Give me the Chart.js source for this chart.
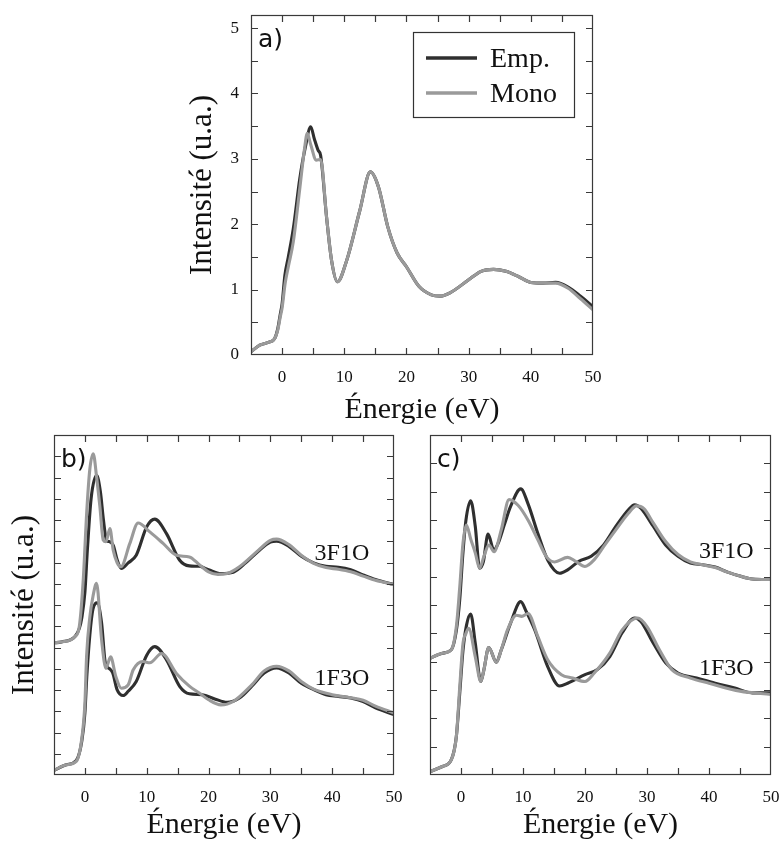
<!DOCTYPE html>
<html lang="fr">
<head>
<meta charset="utf-8">
<title>Intensité vs Énergie</title>
<script src="https://cdn.jsdelivr.net/npm/chart.js@4.4.1/dist/chart.umd.min.js"></script>
<style>
  html, body { margin: 0; padding: 0; background: #fff; overflow: hidden; }
  #wrap { position: relative; width: 780px; height: 845px; }
  canvas { position: absolute; }
  #chartA { left: 170px; top: 0; }
  #chartB { left: 0; top: 430px; }
  #chartC { left: 400px; top: 430px; }
</style>
</head>
<body>
<div id="wrap">
  <canvas id="chartB" width="410" height="415"></canvas>
  <canvas id="chartC" width="380" height="415"></canvas>
  <canvas id="chartA" width="440" height="430"></canvas>
</div>
<script>
// ---- data (energy in eV, intensity in a.u.) ----

// panel a)
const aEmpE  = [-5, -3.6, -2, -1.2, -0.7, -0.3, 0, 0.45, 1, 1.8, 2.85, 3.7, 4.6, 5.2, 5.8, 6.2, 7.15, 7.95, 8.9, 10.4, 12.5, 14.2, 15.5, 17, 18.5, 20, 22, 24, 25.5, 27, 30, 32, 34, 36, 38, 40, 42, 44, 46, 48, 50];
const aEmpI  = [0.05, 0.15, 0.2, 0.25, 0.4, 0.62, 0.78, 1.22, 1.5, 1.93, 2.7, 3.16, 3.49, 3.3, 3.13, 3.05, 2.11, 1.45, 1.12, 1.45, 2.21, 2.8, 2.57, 1.96, 1.56, 1.35, 1.05, 0.92, 0.9, 0.95, 1.15, 1.28, 1.31, 1.28, 1.2, 1.11, 1.1, 1.11, 1.04, 0.9, 0.74];
const aMonoE = [-5, -3.6, -2, -1.2, -0.7, -0.3, 0, 0.5, 1, 1.8, 2.85, 3.6, 4.05, 4.6, 5.5, 6.2, 7.15, 7.95, 8.9, 10.4, 12.5, 14.2, 15.5, 17, 18.5, 20, 22, 24, 25.5, 27, 30, 32, 34, 36, 38, 40, 42, 44, 46, 48, 50];
const aMonoI = [0.05, 0.15, 0.2, 0.25, 0.38, 0.58, 0.72, 1.1, 1.35, 1.73, 2.55, 3.15, 3.39, 3.22, 2.98, 2.99, 2.11, 1.45, 1.12, 1.45, 2.21, 2.8, 2.57, 1.96, 1.56, 1.35, 1.05, 0.92, 0.9, 0.95, 1.15, 1.28, 1.31, 1.28, 1.2, 1.11, 1.1, 1.1, 1.02, 0.86, 0.69];

// panel b) upper curves (3F1O)
const bTopEmpE  = [-5, -3.8, -1.6, -0.9, -0.5, 0, 0.4, 1, 1.9, 2.5, 3.0, 3.5, 4.0, 4.6, 5.2, 5.9, 7, 8.3, 10, 11.3, 13.2, 15.3, 16.9, 18.5, 20, 22, 24, 26, 28, 30, 31, 33, 35, 37, 39, 41, 43, 45, 47, 50];
const bTopEmpI  = [3.11, 3.13, 3.26, 3.45, 3.7, 4.3, 5.3, 6.5, 7.05, 6.67, 6.0, 5.52, 5.49, 5.4, 5.07, 4.86, 4.99, 5.17, 5.84, 6.02, 5.68, 5.06, 4.92, 4.91, 4.83, 4.74, 4.77, 4.99, 5.26, 5.48, 5.5, 5.38, 5.15, 4.99, 4.91, 4.89, 4.83, 4.71, 4.6, 4.48];
const bTopMonoE = [-5, -3.8, -1.6, -0.9, -0.27, 0.3, 0.8, 1.35, 1.9, 2.42, 2.96, 3.4, 4.04, 4.58, 5.2, 5.82, 7.27, 8.6, 10.5, 12.65, 14.8, 16.9, 18.5, 20, 21.5, 23, 25, 28, 30, 31, 33, 35, 37, 39, 41, 43, 45, 47, 50];
const bTopMonoI = [3.11, 3.13, 3.26, 3.5, 4.59, 6.2, 7.2, 7.56, 7.0, 6.32, 5.53, 5.49, 5.8, 5.29, 5.0, 4.9, 5.45, 5.93, 5.72, 5.45, 5.17, 5.13, 4.95, 4.78, 4.72, 4.74, 4.9, 5.28, 5.52, 5.55, 5.42, 5.17, 4.98, 4.88, 4.84, 4.78, 4.68, 4.58, 4.48];
// panel b) lower curves (1F3O)
const bBotEmpE  = [-5, -3, -1.4, -0.5, 0, 0.3, 0.8, 1.3, 2.0, 2.7, 3.3, 4.0, 4.5, 5.2, 6.2, 7, 8.3, 10, 11.3, 13.2, 15.35, 16.9, 19, 21, 23, 25, 27, 29, 31, 33, 35, 37, 39, 41, 43, 45, 47, 50];
const bBotEmpI  = [0.11, 0.24, 0.34, 0.8, 1.46, 2.3, 3.3, 3.9, 4.05, 3.58, 2.64, 2.5, 2.4, 2.01, 1.87, 1.97, 2.2, 2.82, 3.02, 2.71, 2.08, 1.91, 1.89, 1.79, 1.71, 1.81, 2.09, 2.4, 2.52, 2.4, 2.16, 2.01, 1.89, 1.85, 1.81, 1.73, 1.58, 1.42];
const bBotMonoE = [-5, -3, -1.4, -0.53, 0, 0.27, 0.8, 1.3, 1.88, 2.7, 3.4, 4.15, 5, 5.9, 7, 7.8, 9.4, 10.5, 12.4, 14.8, 16.9, 18.5, 20, 22, 24, 27, 29, 31, 33, 35, 37, 40, 43, 45, 47, 50];
const bBotMonoI = [0.11, 0.24, 0.32, 0.83, 1.69, 2.79, 3.72, 4.2, 4.51, 3.18, 2.51, 2.78, 2.32, 2.04, 2.12, 2.47, 2.67, 2.64, 2.86, 2.39, 2.09, 1.93, 1.77, 1.65, 1.73, 2.12, 2.45, 2.56, 2.45, 2.2, 2.02, 1.89, 1.82, 1.76, 1.62, 1.46];

// panel c) upper curves (3F1O)
const cTopEmpE  = [-5, -3, -1.56, -0.75, -0.2, 0.3, 0.8, 1.56, 2.3, 3.0, 3.6, 4.36, 5.3, 6, 7, 8, 9.64, 10.8, 12.4, 14, 15.9, 17.2, 19, 21, 23, 25, 27, 28, 29, 31, 33, 35, 37, 39, 41, 43, 45, 47, 50];
const cTopEmpI  = [2.06, 2.15, 2.21, 2.55, 3.1, 3.9, 4.5, 4.84, 4.39, 3.65, 3.76, 4.25, 3.97, 4.09, 4.42, 4.74, 5.05, 4.79, 4.26, 3.79, 3.56, 3.62, 3.77, 3.86, 4.06, 4.39, 4.68, 4.77, 4.71, 4.39, 4.06, 3.86, 3.74, 3.71, 3.67, 3.58, 3.51, 3.46, 3.45];
const cTopMonoE = [-5, -3, -1.56, -0.75, -0.2, 0.32, 0.86, 1.6, 2.3, 3.0, 3.7, 4.5, 5.33, 6.5, 7.75, 9.2, 10.8, 12.4, 13.8, 15.1, 17.2, 18.5, 20, 21.5, 23, 25, 27, 28.3, 29.5, 31, 33, 35, 37, 39, 41, 43, 45, 47, 50];
const cTopMonoI = [2.06, 2.15, 2.21, 2.62, 3.32, 4.09, 4.41, 4.15, 3.92, 3.65, 3.86, 4.06, 3.94, 4.33, 4.86, 4.76, 4.5, 4.15, 3.85, 3.76, 3.84, 3.77, 3.68, 3.8, 4.03, 4.33, 4.62, 4.75, 4.7, 4.45, 4.12, 3.89, 3.76, 3.71, 3.66, 3.58, 3.51, 3.46, 3.45];
// panel c) lower curves (1F3O)
const cBotEmpE  = [-5, -3, -1.56, -0.75, -0.2, 0.32, 0.9, 1.56, 2.3, 3.2, 3.7, 4.47, 5.7, 6.5, 8, 9.64, 10.5, 11.9, 14, 15.9, 17.2, 20, 22, 24, 26, 28, 29, 31, 33, 35, 38, 41, 44, 47, 50];
const cBotEmpI  = [0.06, 0.15, 0.27, 0.68, 1.45, 2.2, 2.65, 2.84, 2.33, 1.65, 1.86, 2.25, 1.99, 2.21, 2.68, 3.06, 2.89, 2.56, 1.91, 1.57, 1.62, 1.77, 1.86, 2.09, 2.51, 2.77, 2.71, 2.33, 1.98, 1.8, 1.71, 1.62, 1.54, 1.45, 1.45];
const cBotMonoE = [-5, -3, -1.56, -0.75, -0.2, 0.32, 0.8, 1.24, 2.3, 3.2, 3.7, 4.47, 5.7, 6.5, 7.5, 8.94, 9.8, 10.8, 12.4, 14, 16.2, 18, 20, 21.5, 24, 26, 28.5, 30, 32, 34, 37, 40, 45, 50];
const cBotMonoI = [0.06, 0.15, 0.27, 0.68, 1.56, 2.32, 2.5, 2.59, 2.09, 1.65, 1.86, 2.25, 1.99, 2.21, 2.56, 2.82, 2.8, 2.85, 2.44, 2.03, 1.77, 1.71, 1.65, 1.8, 2.15, 2.56, 2.77, 2.62, 2.21, 1.86, 1.71, 1.62, 1.48, 1.42];

const seriesNames = ['Emp.', 'Mono'];
const curveNames = ['3F1O', '1F3O'];

// ---- styling ----
const DARK = '#2f2f2f';
const GRAY = '#9a9a9a';
const INK = '#111';
const SERIF = '"Liberation Serif", "Times New Roman", serif';

const pairs = (xs, ys) => xs.map((x, i) => ({x: x, y: ys[i]}));

function curve(label, xs, ys, color) {
    return {
        label: label,
        data: pairs(xs, ys),
        borderColor: color,
        borderWidth: 3.1,
        pointRadius: 0,
        fill: false,
        cubicInterpolationMode: 'monotone',
        order: color === GRAY ? 1 : 2 // grey drawn on top of dark
    };
}

// frame + inward tick marks on the four sides
const frameTicks = {
    id: 'frameTicks',
    afterDatasetsDraw(chart) {
        const {ctx, chartArea: a, scales: {x, y}} = chart;
        const len = 7;
        ctx.save();
        ctx.strokeStyle = '#3a3a3a';
        ctx.lineWidth = 1.2;
        ctx.beginPath();
        x.ticks.forEach(t => {
            const px = Math.round(x.getPixelForValue(t.value)) + 0.5;
            if (px <= a.left + 1 || px >= a.right - 1) return;
            ctx.moveTo(px, a.bottom); ctx.lineTo(px, a.bottom - len);
            ctx.moveTo(px, a.top); ctx.lineTo(px, a.top + len);
        });
        y.ticks.forEach(t => {
            const py = Math.round(y.getPixelForValue(t.value)) + 0.5;
            if (py <= a.top + 1 || py >= a.bottom - 1) return;
            ctx.moveTo(a.left, py); ctx.lineTo(a.left + len, py);
            ctx.moveTo(a.right, py); ctx.lineTo(a.right - len, py);
        });
        ctx.stroke();
        ctx.strokeRect(a.left + 0.5, a.top + 0.5, a.right - a.left - 1, a.bottom - a.top - 1);
        ctx.restore();
    }
};

// panel tag "a)" etc. and the curve names next to the curves
const panelText = {
    id: 'panelText',
    afterDatasetsDraw(chart, args, opts) {
        const {ctx, chartArea: a, scales: {x, y}} = chart;
        ctx.save();
        ctx.fillStyle = INK;
        ctx.textBaseline = 'alphabetic';
        ctx.font = '25px "DejaVu Sans", sans-serif';
        ctx.fillText(opts.tag, a.left + 7, a.top + 32);
        ctx.font = '24px ' + SERIF;
        ctx.textAlign = 'right';
        (opts.curves || []).forEach(c => {
            ctx.fillText(c.text, x.getPixelForValue(c.x), y.getPixelForValue(c.y));
        });
        ctx.restore();
    }
};

// boxed legend inside panel a)
const boxLegend = {
    id: 'boxLegend',
    afterDatasetsDraw(chart, args, opts) {
        if (!opts.display) return;
        const {ctx, chartArea: a} = chart;
        const bx = a.left + 162, by = a.top + 17, bw = 161, bh = 85;
        ctx.save();
        ctx.fillStyle = '#fff';
        ctx.fillRect(bx, by, bw, bh);
        ctx.strokeStyle = '#333';
        ctx.lineWidth = 1.2;
        ctx.strokeRect(bx + 0.5, by + 0.5, bw, bh);
        ctx.font = '28px ' + SERIF;
        ctx.fillStyle = INK;
        chart.data.datasets.forEach((ds, i) => {
            const ly = by + 26 + i * 35;
            ctx.strokeStyle = ds.borderColor;
            ctx.lineWidth = 3.4;
            ctx.beginPath();
            ctx.moveTo(bx + 13, ly);
            ctx.lineTo(bx + 64, ly);
            ctx.stroke();
            ctx.fillText(ds.label, bx + 77, ly + 9);
        });
        ctx.restore();
    }
};

function makeScales({yMax, yLabels, yTitle, yWidth, yTitlePad, xHeight}) {
    return {
        x: {
            type: 'linear',
            min: -5,
            max: 50,
            grid: {display: false, drawTicks: false},
            border: {display: false},
            ticks: {
                stepSize: 5,
                autoSkip: false,
                maxRotation: 0,
                padding: 12,
                color: INK,
                font: {family: SERIF, size: 17},
                callback: v => (v % 10 === 0 ? v : '')
            },
            title: {
                display: true,
                text: 'Énergie (eV)',
                color: INK,
                font: {family: SERIF, size: 30, lineHeight: 1},
                padding: {top: 0, bottom: 5}
            },
            // fixed box so the plot area lands where the figure has it
            afterFit: s => { s.height = xHeight; s.paddingLeft = 0; s.paddingRight = 0; }
        },
        y: {
            type: 'linear',
            min: 0,
            max: yMax,
            grid: {display: false, drawTicks: false},
            border: {display: false},
            ticks: {
                stepSize: 0.5,
                includeBounds: false,
                autoSkip: false,
                padding: 12,
                color: INK,
                font: {family: SERIF, size: 17},
                callback: v => (yLabels && v % 1 === 0 ? v : '')
            },
            title: {
                display: !!yTitle,
                text: yTitle || '',
                color: INK,
                font: {family: SERIF, size: 31, lineHeight: 1},
                padding: {top: yTitlePad || 0, bottom: 0}
            },
            afterFit: s => { s.width = yWidth; s.paddingTop = 0; s.paddingBottom = 0; }
        }
    };
}

function makeChart(id, datasets, scaleOpts, padding, text, legend) {
    return new Chart(document.getElementById(id), {
        type: 'line',
        data: {datasets: datasets},
        options: {
            responsive: false,
            animation: false,
            devicePixelRatio: 1,
            layout: {padding: padding},
            scales: makeScales(scaleOpts),
            plugins: {
                legend: {display: false},
                tooltip: {enabled: false},
                panelText: text,
                boxLegend: {display: legend}
            }
        },
        plugins: [frameTicks, panelText, boxLegend]
    });
}

makeChart('chartA', [
    curve(seriesNames[0], aEmpE, aEmpI, DARK),
    curve(seriesNames[1], aMonoE, aMonoI, GRAY)
], {yMax: 5.2, yLabels: true, yTitle: 'Intensité (u.a.)', yWidth: 81, yTitlePad: 17, xHeight: 75},
   {top: 15, right: 17, bottom: 0, left: 0},
   {tag: 'a)'}, true);

makeChart('chartB', [
    curve(seriesNames[0], bTopEmpE, bTopEmpI, DARK),
    curve(seriesNames[1], bTopMonoE, bTopMonoI, GRAY),
    curve(seriesNames[0], bBotEmpE, bBotEmpI, DARK),
    curve(seriesNames[1], bBotMonoE, bBotMonoI, GRAY)
], {yMax: 8, yLabels: false, yTitle: 'Intensité (u.a.)', yWidth: 54, yTitlePad: 9, xHeight: 70},
   {top: 5, right: 16, bottom: 0, left: 0},
   {tag: 'b)', curves: [{text: curveNames[0], x: 46, y: 5.06}, {text: curveNames[1], x: 46, y: 2.12}]}, false);

makeChart('chartC', [
    curve(seriesNames[0], cTopEmpE, cTopEmpI, DARK),
    curve(seriesNames[1], cTopMonoE, cTopMonoI, GRAY),
    curve(seriesNames[0], cBotEmpE, cBotEmpI, DARK),
    curve(seriesNames[1], cBotMonoE, cBotMonoI, GRAY)
], {yMax: 6, yLabels: false, yTitle: null, yWidth: 30, xHeight: 70},
   {top: 5, right: 9, bottom: 0, left: 0},
   {tag: 'c)', curves: [{text: curveNames[0], x: 47.2, y: 3.83}, {text: curveNames[1], x: 47.2, y: 1.77}]}, false);
</script>
</body>
</html>
